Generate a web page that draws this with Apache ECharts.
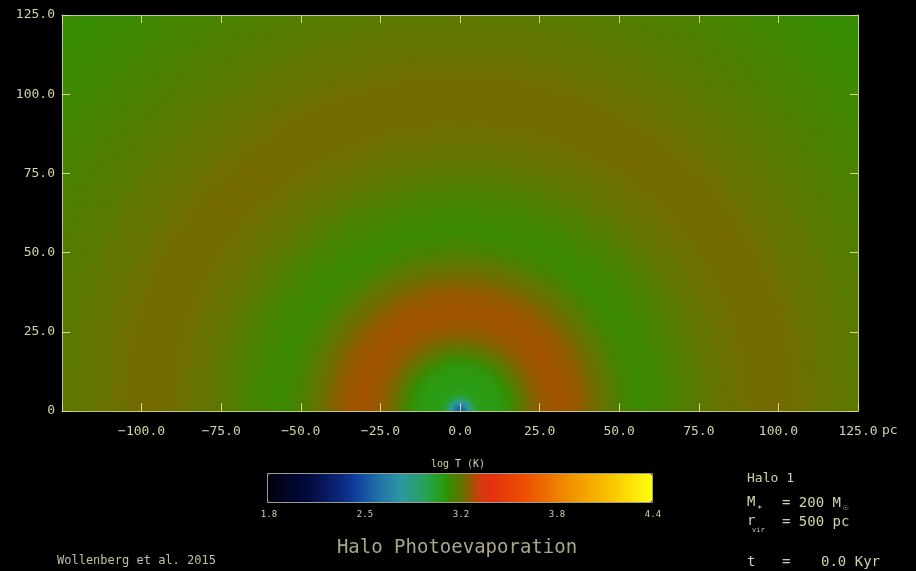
<!DOCTYPE html>
<html><head><meta charset="utf-8">
<script src="https://cdn.jsdelivr.net/npm/echarts@6/dist/echarts.min.js"></script>
<style>html,body{margin:0;padding:0;background:#000}#c{width:916px;height:571px}</style>
</head><body><div id="c"></div>
<script>
// Radial profile of log T (K) (radius in pc from the halo centre)
const radii = [0,1,2,3,4,5,6,8,10,12,14,16,18,20,22,24,26,28,30,32,34,36,38,40,42,44,46,48,50,52,54,56,58,60,63,66,70,75,80,85,90,95,100,105,110,115,120,125,130,140,150,160,170,180];
const logT  = [2.45,2.52,2.62,2.74,2.86,2.94,2.97,2.98,2.98,2.99,3.00,3.03,3.07,3.11,3.14,3.16,3.17,3.178,3.182,3.182,3.178,3.172,3.163,3.15,3.135,3.12,3.10,3.08,3.06,3.05,3.04,3.035,3.035,3.04,3.045,3.055,3.07,3.09,3.11,3.12,3.13,3.135,3.135,3.13,3.12,3.11,3.10,3.09,3.08,3.065,3.05,3.035,3.025,3.02];
const xTicks = [-125,-100,-75,-50,-25,0,25,50,75,100,125];
const yTicks = [0,25,50,75,100,125];
const cbarLabels = ['1.8','2.5','3.2','3.8','4.4'];
const cbarMin = 1.8, cbarMax = 4.4;

// colour table (style)
const cmapStops = [[1.80,'#00000c'],[2.05,'#000a38'],[2.25,'#0a2070'],[2.40,'#1040a0'],[2.55,'#2070a8'],[2.70,'#2c98a0'],[2.85,'#28a060'],[2.97,'#28a018'],[3.02,'#348e04'],[3.06,'#4a8000'],[3.10,'#607600'],[3.13,'#6e6e00'],[3.16,'#8a5c00'],[3.19,'#a85000'],[3.23,'#d03c0c'],[3.30,'#e43010'],[3.55,'#ec5000'],[3.80,'#f08800'],[4.10,'#f8c000'],[4.40,'#ffff10']];
function h2r(h){return [parseInt(h.slice(1,3),16),parseInt(h.slice(3,5),16),parseInt(h.slice(5,7),16)];}
function cmap(v){
  for(let i=0;i<cmapStops.length-1;i++){
    const a=cmapStops[i],b=cmapStops[i+1];
    if(v<=b[0]+1e-9){const t=Math.max(0,(v-a[0])/(b[0]-a[0]));const ca=h2r(a[1]),cb=h2r(b[1]);
      return 'rgb('+ca.map((x,k)=>Math.round(x+(cb[k]-x)*t)).join(',')+')';}
  }
  return cmapStops[cmapStops.length-1][1];
}
const cols=[];for(let k=0;k<=130;k++){cols.push(cmap(cbarMin+k*0.02));}

const txt='#d2d2aa', font='"DejaVu Sans Mono", monospace';
const chart = echarts.init(document.getElementById('c'));
const ringData = radii.map((r,i)=>[r, i<radii.length-1?radii[i+1]:r, logT[i]]);
const fmtX = v => v===-125?'':(v<0?'\u2212'+(-v).toFixed(1):v.toFixed(1));
const fmtY = v => v===0?'0':v.toFixed(1);
const axisCommon = {type:'value', z:10, splitLine:{show:false},
  axisLine:{show:true,onZero:false,lineStyle:{color:'#bcc890',width:1}},
  axisTick:{show:true,inside:true,length:8,lineStyle:{color:'#d8d890'}}};
const cbX = 268, cbW = 384, cbY = 474, cbH = 28;
const g = [];
g.push({type:'text',left:882,top:424,style:{text:'pc',fill:txt,font:'13px '+font}});
g.push({type:'text',x:458,y:464,style:{text:'log T (K)',fill:txt,font:'10px '+font,align:'center',verticalAlign:'middle'}});
cbarLabels.forEach((s,i)=>{
  const x = cbX + cbW*i/(cbarLabels.length-1);
  g.push({type:'text',x:x+1,y:515,style:{text:s,fill:txt,font:'9px '+font,align:'center',verticalAlign:'middle'}});
  if(i>0&&i<cbarLabels.length-1){
    g.push({type:'line',shape:{x1:x,y1:cbY,x2:x,y2:cbY+5},style:{stroke:'rgba(230,230,200,0.6)',lineWidth:1}});
    g.push({type:'line',shape:{x1:x,y1:cbY+cbH-5,x2:x,y2:cbY+cbH},style:{stroke:'rgba(230,230,200,0.6)',lineWidth:1}});
  }
});
g.push({type:'rect',shape:{x:cbX-0.5,y:cbY-0.5,width:cbW+1,height:cbH+1},style:{fill:null,stroke:'#9a9a90',lineWidth:1},z:100});
g.push({type:'text',x:457,y:548,style:{text:'Halo Photoevaporation',fill:'#a8a888',font:'19px '+font,align:'center',verticalAlign:'middle'}});
g.push({type:'text',left:57,top:555,style:{text:'Wollenberg et al. 2015',fill:'#c0c09c',font:'12px '+font}});
g.push({type:'text',left:747,top:472,style:{text:'Halo 1',fill:txt,font:'13px '+font}});
g.push({type:'text',left:747,top:495,style:{text:'M',fill:txt,font:'14px '+font}});
g.push({type:'text',left:757,top:505,style:{text:'*',fill:txt,font:'9px '+font}});
g.push({type:'text',left:782,top:496,style:{text:'= 200 M',fill:txt,font:'14px '+font}});
g.push({type:'text',left:843,top:503,style:{text:'\u2609',fill:txt,font:'9px '+font}});
g.push({type:'text',left:747,top:514,style:{text:'r',fill:txt,font:'14px '+font}});
g.push({type:'text',left:752,top:527,style:{text:'vir',fill:txt,font:'7px '+font}});
g.push({type:'text',left:782,top:515,style:{text:'= 500 pc',fill:txt,font:'14px '+font}});
g.push({type:'text',left:747,top:555,style:{text:'t',fill:txt,font:'14px '+font}});
g.push({type:'text',left:782,top:555,style:{text:'=',fill:txt,font:'14px '+font}});
g.push({type:'text',left:821,top:555,style:{text:'0.0 Kyr',fill:txt,font:'14px '+font}});

chart.setOption({
  backgroundColor:'#000',
  animation:false,
  grid:{left:62,right:58,top:15,bottom:160},
  xAxis:[
    Object.assign({},axisCommon,{min:-125,max:125,interval:25,position:'bottom',
      axisLabel:{show:true,color:txt,fontFamily:'DejaVu Sans Mono',fontSize:13,margin:14,formatter:fmtX}}),
    Object.assign({},axisCommon,{min:-125,max:125,interval:25,position:'top',axisLabel:{show:false}})
  ],
  yAxis:[
    Object.assign({},axisCommon,{min:0,max:125,interval:25,position:'left',
      axisLabel:{show:true,color:txt,fontFamily:'DejaVu Sans Mono',fontSize:13,margin:7,formatter:fmtY}}),
    Object.assign({},axisCommon,{min:0,max:125,interval:25,position:'right',axisLabel:{show:false}})
  ],
  visualMap:{type:'continuous',min:cbarMin,max:cbarMax,dimension:2,seriesIndex:0,orient:'horizontal',
    left:cbX,top:cbY,itemWidth:cbH,itemHeight:cbW,calculable:false,hoverLink:false,padding:0,
    text:null,showLabel:false,inRange:{color:cols},textStyle:{color:'transparent'}},
  series:[{
    type:'custom',coordinateSystem:'cartesian2d',clip:true,silent:true,z:1,
    dimensions:['r0','r1','logT'],encode:{x:0,y:1},
    data:ringData,
    renderItem:function(params,api){
      const i=params.dataIndexInside;
      const r0=api.value(0), r1=api.value(1);
      if(!(r1>r0)) return null;
      const c=api.coord([0,0]);
      const p0=api.size([r0,0])[0], p1=api.size([r1,0])[0];
      const c0=api.visual('color'), c1=api.visual('color',i+1);
      return {type:'sector',shape:{cx:c[0],cy:c[1],r0:Math.max(0,p0-0.5),r:p1+0.5,startAngle:Math.PI,endAngle:Math.PI*2,clockwise:true},
        style:{fill:{type:'radial',x:c[0],y:c[1],r:p1,global:true,colorStops:[{offset:p0/p1,color:c0},{offset:1,color:c1}]}}};
    }
  }],
  graphic:g
});
</script></body></html>
